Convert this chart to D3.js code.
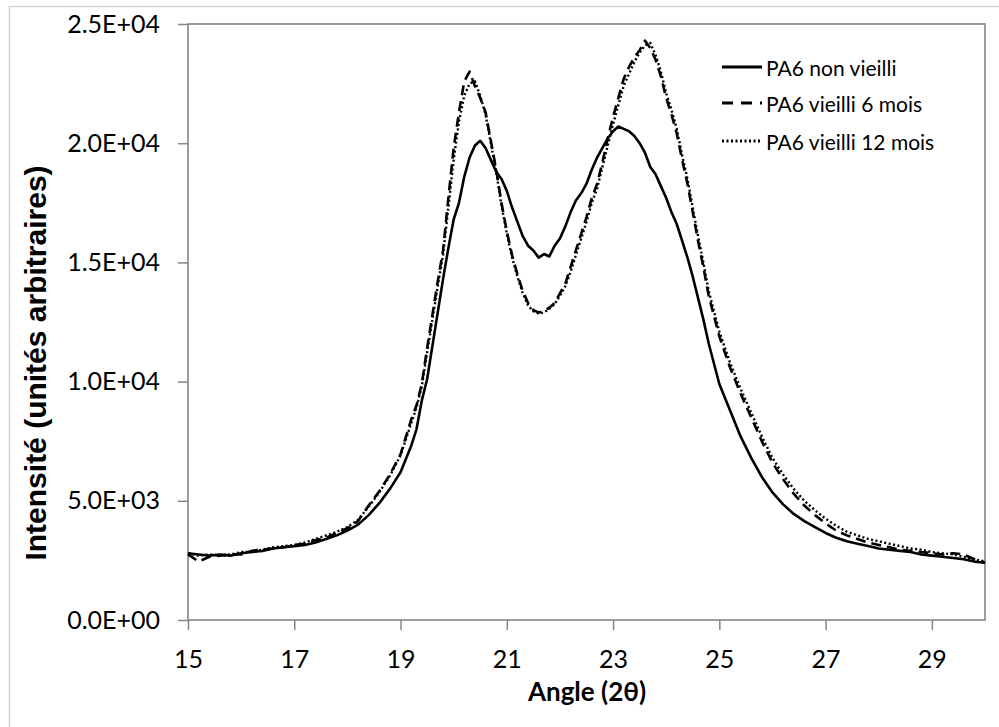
<!DOCTYPE html>
<html>
<head>
<meta charset="utf-8">
<script src="https://cdn.jsdelivr.net/npm/d3@7/dist/d3.min.js"></script>
<style>
  html, body { margin: 0; padding: 0; background: #fff; }
  svg { display: block; }
</style>
</head>
<body>
<svg id="chart" width="999" height="727"></svg>
<script>
// ---------------- DATA ----------------
const angles = [
  15.0,15.2,15.4,15.6,15.8,16.0,16.2,16.4,16.6,16.8,
  17.0,17.2,17.4,17.6,17.8,18.0,18.2,18.4,18.6,18.8,
  19.0,19.2,
  19.3,19.4,19.5,19.6,19.7,19.8,19.9,20.0,20.1,20.2,
  20.3,20.4,20.5,20.6,20.7,20.8,20.9,21.0,21.1,21.2,
  21.3,21.4,21.5,21.6,21.7,21.8,21.9,22.0,22.1,22.2,
  22.3,22.4,22.5,22.6,22.7,22.8,22.9,23.0,23.1,23.2,
  23.3,23.4,23.5,23.6,23.7,23.8,23.9,24.0,24.1,24.2,
  24.3,24.4,24.5,24.6,24.7,24.8,
  25.0,25.2,25.4,25.6,25.8,26.0,26.2,26.4,26.6,26.8,
  27.0,27.2,27.4,27.6,27.8,28.0,28.2,28.4,28.6,28.8,
  29.0,29.2,29.4,29.6,29.8,30.0
];

const nonVieilli = [
  2800,2750,2700,2750,2700,2800,2850,2900,3000,3050,
  3100,3150,3250,3400,3550,3750,4000,4400,4900,5500,
  6200,7300,
  8000,9200,10100,11500,12900,14300,15600,16800,17500,18600,
  19400,19900,20100,19800,19300,18800,18500,18000,17300,16700,
  16100,15700,15500,15200,15350,15250,15700,16000,16500,17100,
  17600,17900,18300,18900,19400,19800,20200,20500,20700,20600,
  20500,20300,20000,19600,19000,18700,18200,17700,17100,16600,
  15900,15200,14400,13500,12600,11600,
  9900,8800,7700,6800,6000,5350,4850,4450,4150,3900,
  3650,3450,3300,3200,3100,3000,2950,2900,2850,2750,
  2700,2650,2600,2550,2450,2400
];

const vieilli6 = [
  2750,2450,2650,2700,2750,2750,2900,2950,3000,3050,
  3150,3200,3350,3450,3650,3850,4150,4800,5400,6100,
  6950,8400,
  9000,9900,11400,12800,14200,15500,17700,19800,21300,22600,
  23000,22400,21900,21300,20100,18900,17500,16300,15300,14500,
  13800,13300,13000,12900,12950,13100,13300,13700,14100,14800,
  15500,16200,16900,17700,18300,19200,20200,21100,21900,22700,
  23200,23600,23900,24300,24000,23500,22800,21900,21200,20400,
  19300,18300,17100,15900,14800,13600,
  11900,10600,9500,8500,7500,6600,5900,5300,4800,4400,
  4050,3750,3550,3400,3250,3150,3050,2950,2900,2850,
  2800,2750,2800,2750,2550,2400
];

const vieilli12 = [
  2800,2700,2750,2700,2750,2850,2850,2950,3050,3100,
  3150,3250,3400,3550,3700,3900,4200,4750,5350,6050,
  6900,8250,
  8900,9800,11200,12600,14000,15300,17300,19300,20900,22000,
  22500,22600,22000,21200,20000,18800,17400,16200,15200,14400,
  13700,13200,12950,12850,12900,13050,13250,13600,14000,14600,
  15300,16000,16700,17500,18100,19000,19900,20800,21600,22400,
  22900,23400,23800,24100,24200,23700,23000,22100,21400,20600,
  19500,18500,17300,16100,15000,13800,
  12100,10800,9700,8700,7700,6800,6100,5500,5000,4600,
  4250,3950,3700,3550,3400,3300,3200,3100,3000,2950,
  2850,2800,2750,2650,2550,2450
];

const seriesNames = ["PA6 non vieilli", "PA6 vieilli 6 mois", "PA6 vieilli 12 mois"];
const xTicks = [15, 17, 19, 21, 23, 25, 27, 29];
const yTicks = [0, 5000, 10000, 15000, 20000, 25000];
const yTickLabels = ["0.0E+00", "5.0E+03", "1.0E+04", "1.5E+04", "2.0E+04", "2.5E+04"];
const xTitle = "Angle (2\u03B8)";
const yTitle = "Intensit\u00E9 (unit\u00E9s arbitraires)";

// ---------------- LAYOUT ----------------
const L = 188, R = 985, T = 24, B = 620;
const axisColor = "#868686";
const svg = d3.select("#chart");

// outer chart border
svg.append("rect").attr("x", 9.5).attr("y", 6.5).attr("width", 1000).attr("height", 730)
  .attr("fill", "none").attr("stroke", "#d4d4d4").attr("stroke-width", 1.5);

const x = d3.scaleLinear().domain([15, 30]).range([L, R]);
const y = d3.scaleLinear().domain([0, 25000]).range([B, T]);

// plot area border
svg.append("rect").attr("x", L).attr("y", T).attr("width", R - L).attr("height", B - T)
  .attr("fill", "none").attr("stroke", axisColor).attr("stroke-width", 1.6);

// y axis
const yAxis = svg.append("g").attr("transform", `translate(${L},0)`)
  .call(d3.axisLeft(y).tickValues(yTicks).tickFormat((d, i) => yTickLabels[i]).tickSize(10).tickPadding(18));
yAxis.select(".domain").remove();
yAxis.selectAll(".tick line").attr("stroke", axisColor).attr("stroke-width", 1.5);
yAxis.selectAll(".tick text").attr("fill", "#000").style("font-family", "Lato, sans-serif").style("font-size", "25px");

// x axis
const xAxis = svg.append("g").attr("transform", `translate(0,${B})`)
  .call(d3.axisBottom(x).tickValues(xTicks).tickFormat(d3.format("d")).tickSize(10).tickPadding(20));
xAxis.select(".domain").remove();
xAxis.selectAll(".tick line").attr("stroke", axisColor).attr("stroke-width", 1.5);
xAxis.selectAll(".tick text").attr("fill", "#000").style("font-family", "Lato, sans-serif").style("font-size", "25px");

// axis titles
svg.append("text").attr("x", 587).attr("y", 701).attr("text-anchor", "middle")
  .style("font-family", "Lato, sans-serif").style("font-weight", "bold").style("font-size", "26px")
  .text(xTitle);
svg.append("text").attr("transform", "translate(46,363) rotate(-90)").attr("text-anchor", "middle")
  .style("font-family", "'Liberation Sans', Arial, sans-serif").style("font-weight", "bold").style("font-size", "30px")
  .text(yTitle);

// ---------------- LINES ----------------
const styles = [
  { dash: null, width: 2.6 },
  { dash: "10,6", width: 2.6 },
  { dash: "2,2.5", width: 2.4 }
];
const seriesData = [nonVieilli, vieilli6, vieilli12];
const line = d3.line().x(d => x(d[0])).y(d => y(d[1]));

[2, 1, 0].forEach(k => {
  const vals = seriesData[k];
  const pts = angles.map((a, i) => [a, vals[i]]).filter(d => d[1] !== undefined);
  svg.append("path").datum(pts).attr("d", line)
    .attr("fill", "none").attr("stroke", "#000")
    .attr("stroke-width", styles[k].width)
    .attr("stroke-dasharray", styles[k].dash)
    .attr("stroke-linejoin", "round");
});

// ---------------- LEGEND ----------------
const legendY = [67, 103, 141];
seriesNames.forEach((name, k) => {
  svg.append("line").attr("x1", 722).attr("x2", 762).attr("y1", legendY[k]).attr("y2", legendY[k])
    .attr("stroke", "#000").attr("stroke-width", styles[k].width + 0.4)
    .attr("stroke-dasharray", k === 1 ? "11,8" : styles[k].dash);
  svg.append("text").attr("x", 766).attr("y", legendY[k]).attr("dominant-baseline", "central")
    .style("font-family", "Lato, sans-serif").style("font-size", "21px").attr("fill", "#000")
    .text(name);
});
</script>
</body>
</html>
